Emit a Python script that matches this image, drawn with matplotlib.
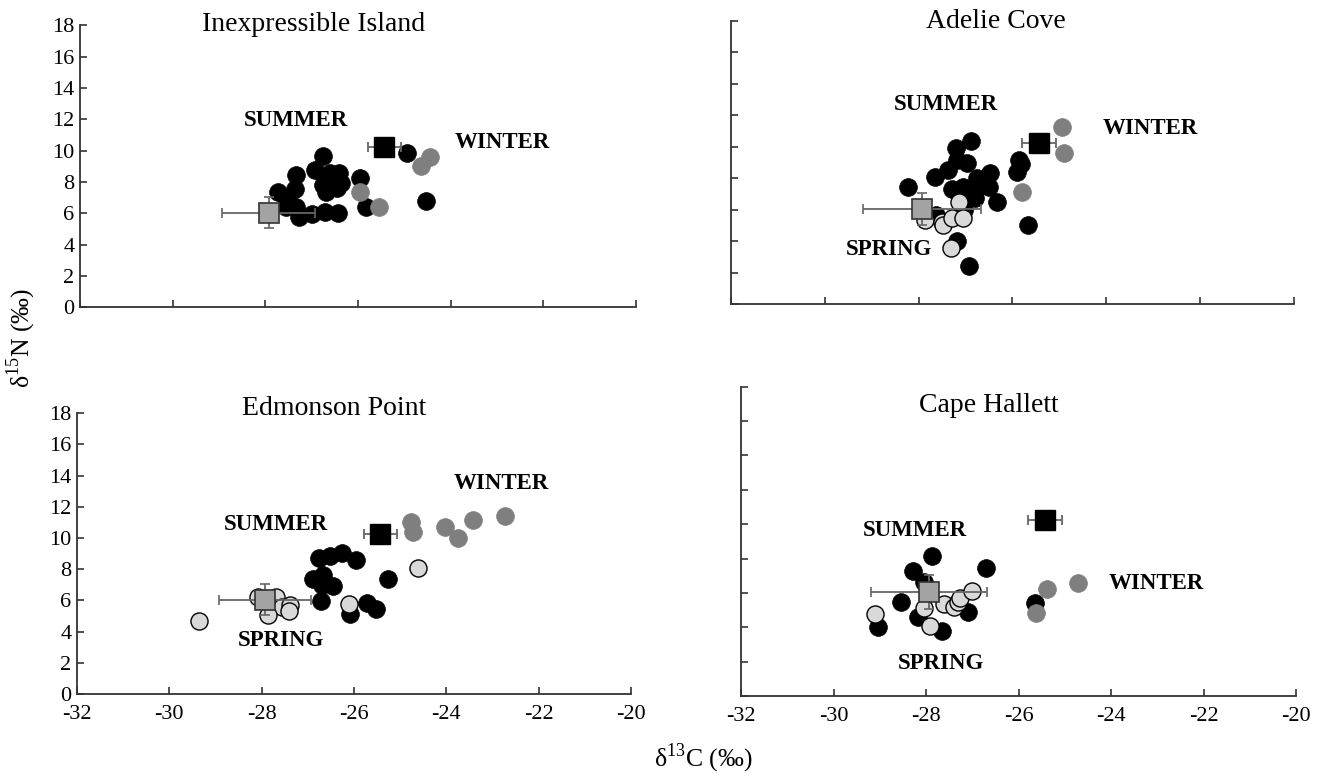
import matplotlib
matplotlib.use("Agg")
import matplotlib.pyplot as plt

plt.rcParams['font.family'] = ['Liberation Serif', 'DejaVu Serif']
plt.rcParams['mathtext.fontset'] = 'custom'
plt.rcParams['mathtext.rm'] = 'Liberation Serif'

# --- data (d13C, d15N) ---
# Inexpressible Island
II_SUMMER_C = [-26.75, -26.93, -27.34, -26.61, -26.41, -26.36, -26.75, -26.68, -26.46, -27.36, -27.72,
               -27.54, -27.56, -27.33, -27.27, -27.00, -26.71, -26.43, -25.96, -25.82, -24.94, -24.54]
II_SUMMER_N = [9.67, 8.76, 8.44, 8.55, 8.59, 7.91, 7.80, 7.38, 7.59, 7.53, 7.38,
               6.85, 6.38, 6.38, 5.78, 5.93, 6.10, 6.04, 8.23, 6.38, 9.83, 6.78]
II_WINTER_C = [-25.96, -25.55, -24.65, -24.45]
II_WINTER_N = [7.38, 6.38, 9.04, 9.57]
II_SPRING_C = []
II_SPRING_N = []

# Adelie Cove
AC_SUMMER_C = [-26.89, -27.20, -27.19, -26.97, -27.37, -27.65, -26.76, -26.48, -26.51, -27.29, -27.06, -26.83,
               -26.80, -28.22, -26.32, -25.87, -25.82, -25.91, -25.68, -27.03, -27.64, -27.18, -26.92]
AC_SUMMER_N = [10.39, 9.94, 9.16, 8.95, 8.52, 8.10, 8.00, 8.31, 7.42, 7.30, 7.42, 7.04,
               6.72, 7.42, 6.51, 9.16, 8.91, 8.42, 5.03, 5.98, 5.66, 4.03, 2.42]
AC_WINTER_C = [-24.94, -24.90, -25.80]
AC_WINTER_N = [11.28, 9.63, 7.15]
AC_SPRING_C = [-27.13, -27.91, -27.86, -27.51, -27.49, -27.29, -27.05, -27.31]
AC_SPRING_N = [6.51, 5.93, 5.34, 5.24, 5.03, 5.45, 5.45, 3.54]

# Edmonson Point
EP_SUMMER_C = [-26.76, -26.52, -26.25, -25.95, -26.89, -26.68, -26.70, -26.45, -26.72, -25.26, -26.09, -25.72, -25.53]
EP_SUMMER_N = [8.70, 8.87, 9.06, 8.60, 7.36, 7.63, 6.99, 6.93, 5.97, 7.36, 5.13, 5.86, 5.45]
EP_WINTER_C = [-24.76, -24.72, -24.03, -23.75, -23.42, -22.74]
EP_WINTER_N = [11.05, 10.41, 10.73, 9.98, 11.16, 11.44]
EP_SPRING_C = [-29.35, -28.08, -27.68, -27.57, -27.39, -27.40, -27.86, -26.11, -24.61]
EP_SPRING_N = [4.68, 6.20, 6.24, 5.60, 5.71, 5.34, 5.07, 5.77, 8.06]

# Cape Hallett
CH_SUMMER_C = [-27.87, -28.28, -28.05, -26.70, -28.54, -28.18, -29.04, -27.66, -27.10, -25.64]
CH_SUMMER_N = [8.17, 7.28, 6.65, 7.43, 5.45, 4.62, 4.03, 3.78, 4.91, 5.43]
CH_WINTER_C = [-25.38, -24.72, -25.62]
CH_WINTER_N = [6.21, 6.56, 4.85]
CH_SPRING_C = [-29.11, -28.05, -27.91, -27.62, -27.39, -27.30, -27.26, -27.01]
CH_SPRING_N = [4.77, 5.10, 4.07, 5.36, 5.20, 5.49, 5.69, 6.13]

# reference means (squares) with SD
GREY_MEAN = [-27.93, 6.05]
BLACK_MEAN = [-25.43, 10.25]
GREY_XERR = [1.0, 1.25, 1.0, 1.25]
GREY_YERR = 1.0
BLACK_XERR = 0.36
BLACK_YERR = 0.3

SITES = ['Inexpressible Island', 'Adelie Cove', 'Edmonson Point', 'Cape Hallett']
X_TICKS = [-32, -30, -28, -26, -24, -22, -20]
Y_TICKS = [0, 2, 4, 6, 8, 10, 12, 14, 16, 18]

panels = [
    (II_SUMMER_C, II_SUMMER_N, II_WINTER_C, II_WINTER_N, II_SPRING_C, II_SPRING_N),
    (AC_SUMMER_C, AC_SUMMER_N, AC_WINTER_C, AC_WINTER_N, AC_SPRING_C, AC_SPRING_N),
    (EP_SUMMER_C, EP_SUMMER_N, EP_WINTER_C, EP_WINTER_N, EP_SPRING_C, EP_SPRING_N),
    (CH_SUMMER_C, CH_SUMMER_N, CH_WINTER_C, CH_WINTER_N, CH_SPRING_C, CH_SPRING_N),
]

# axes boxes in pixels (left, top, right, bottom) of a 1324x776 figure
W, H = 1324, 776
boxes = [(80, 25.3, 636, 307.3), (731, 21, 1294, 304), (77, 413.3, 631, 694), (741, 386.7, 1296, 696)]

# label positions in data coords: title, SUMMER, WINTER, SPRING
label_pos = [
    ((-26.95, 18.06), (-27.34, 11.93), (-22.89, 10.55), None),
    ((-26.36, 17.96), (-27.42, 12.70), (-23.06, 11.17), (-28.63, 3.48)),
    ((-26.44, 18.28), (-27.70, 10.90), (-22.82, 13.51), (-27.58, 3.46)),
    ((-26.65, 16.93), (-28.25, 9.66), (-23.02, 6.56), (-27.67, 1.92)),
]

fig = plt.figure(figsize=(13.24, 7.76), dpi=100)

for i, (sc, sn, wc, wn, pc, pn) in enumerate(panels):
    l, t, r, b = boxes[i]
    ax = fig.add_axes([l / W, 1 - b / H, (r - l) / W, (b - t) / H])

    ax.plot(sc, sn, 'o', ms=12.8, mfc='black', mec='black', mew=0.5, zorder=3)
    ax.plot(wc, wn, 'o', ms=12.8, mfc='#7f7f7f', mec='#7f7f7f', mew=0.5, zorder=4)
    ax.plot(pc, pn, 'o', ms=12.3, mfc='#d9d9d9', mec='black', mew=1.0, zorder=4)

    ax.errorbar(GREY_MEAN[0], GREY_MEAN[1], xerr=GREY_XERR[i], yerr=GREY_YERR, fmt='s', ms=14,
                mfc='#a3a3a3', mec='#333333', mew=1.2, ecolor='#666666', elinewidth=1.3,
                capsize=3.5, capthick=1.3, zorder=5)
    ax.errorbar(BLACK_MEAN[0], BLACK_MEAN[1], xerr=BLACK_XERR, yerr=BLACK_YERR, fmt='s', ms=14,
                mfc='black', mec='black', ecolor='#666666', elinewidth=1.3,
                capsize=3.5, capthick=1.3, zorder=5)

    ax.set_xlim(-32, -20)
    ax.set_ylim(0, 18)
    ax.set_xticks(X_TICKS)
    ax.set_yticks(Y_TICKS)
    for side in ['top', 'right']:
        ax.spines[side].set_visible(False)
    for side in ['left', 'bottom']:
        ax.spines[side].set_linewidth(1.3)
        ax.spines[side].set_color('#333333')
    ax.tick_params(direction='in', length=5, width=1.2, color='#333333', labelsize=16, pad=4)
    ax.tick_params(axis='x', pad=8)
    ax.patch.set_visible(False)

    if i < 2:
        ax.set_xticklabels([])
    else:
        ax.set_xticklabels([str(v) for v in X_TICKS])
    if i % 2 == 1:
        ax.set_yticklabels([])

    title, summer, winter, spring = label_pos[i]
    ax.text(title[0], title[1], SITES[i], fontsize=20, ha='center', va='center', clip_on=False)
    ax.text(summer[0], summer[1], 'SUMMER', fontsize=16.5, fontweight='bold', ha='center', va='center')
    ax.text(winter[0], winter[1], 'WINTER', fontsize=16.5, fontweight='bold', ha='center', va='center')
    if spring is not None:
        ax.text(spring[0], spring[1], 'SPRING', fontsize=16.5, fontweight='bold', ha='center', va='center')

fig.text(703 / W, 1 - 758 / H, r'δ$^{\mathrm{13}}$C (‰)', fontsize=18.5, ha='center', va='center')
fig.text(21.7 / W, 1 - 338 / H, r'δ$^{\mathrm{15}}$N (‰)', fontsize=18.5, ha='center', va='center', rotation=90)

fig.savefig('out.png', dpi=100)
